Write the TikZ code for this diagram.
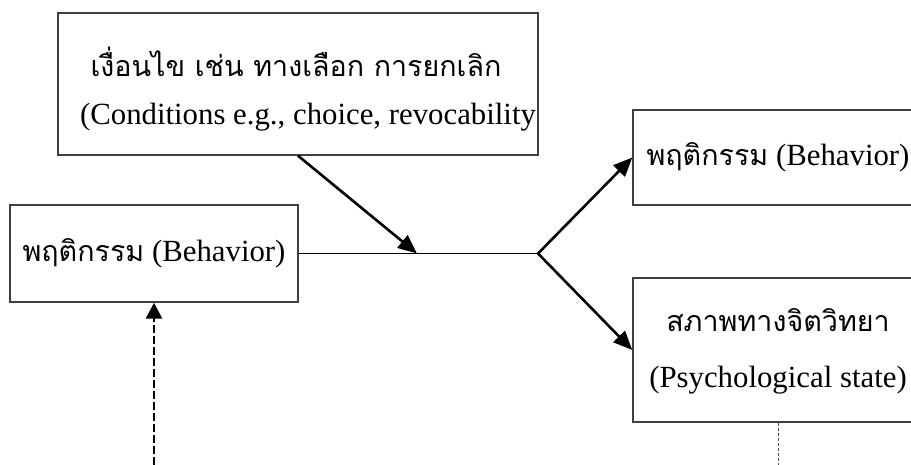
\documentclass[tikz,border=0pt]{standalone}
\usepackage{fontspec}
\setmainfont{Liberation Serif}
\newfontfamily\thaifont[Script=Thai,Scale=0.93]{Loma}
\usetikzlibrary{positioning,arrows.meta}
\newcommand{\thai}[1]{{\thaifont #1}}

\begin{document}
\begin{tikzpicture}[x=0.5pt, y=-0.5pt, >={Triangle[length=9.5pt,width=8pt]},
  box/.style={draw=black!75, line width=0.7pt, inner sep=0pt, font=\fontsize{15.4}{18}\selectfont},
  txt/.style={inner sep=0pt, font=\fontsize{15.4}{18}\selectfont},
  flow/.style={line width=1.3pt, ->},
  link/.style={line width=0.7pt}]
\useasboundingbox (0,0) rectangle (911,465);
\clip (0,0) rectangle (911,465);

% boxes
\node[box, minimum width=240pt, minimum height=71pt] (cond) at (298,84) {};
\node[box, minimum width=144pt, minimum height=48.5pt] (behavIn) at (154,253.5) {\thai{พฤติกรรม} (Behavior)};
\node[box, minimum width=145pt, minimum height=47.5pt] (behavOut) at (778,157.5) {\thai{พฤติกรรม} (Behavior)};
\node[box, minimum width=145pt, minimum height=72pt] (psych) at (778,350) {};

% two-line texts
\node[txt] (condTh) at (296,62) {\thai{เงื่อนไข เช่น ทางเลือก การยกเลิก}};
\node[txt] (condEn) at (308,117) {(Conditions e.g., choice, revocability};
\node[txt] (psychTh) at (778,320) {\thai{สภาพทางจิตวิทยา}};
\node[txt] (psychEn) at (778,380) {(Psychological state)};

% points on the line
\coordinate (join) at (417,253.5);
\coordinate (split) at (538,253.5);
\coordinate (inBottom) at (154,465);
\coordinate (outBottom) at (778,465);

% connectors
\draw[link] (behavIn.east) -- (split);
\draw[flow] (cond.south) -- (join);
\draw[flow] (split) -- (behavOut.west);
\draw[flow] (split) -- (psych.west);
\draw[flow, line width=1.4pt, dash pattern=on 4pt off 1.5pt, >={Triangle[length=8pt,width=8pt]}] (inBottom) -- (behavIn.south);
\draw[black!70, line width=0.5pt, dash pattern=on 1.5pt off 1pt] (psych.south) -- (outBottom);
\end{tikzpicture}
\end{document}
